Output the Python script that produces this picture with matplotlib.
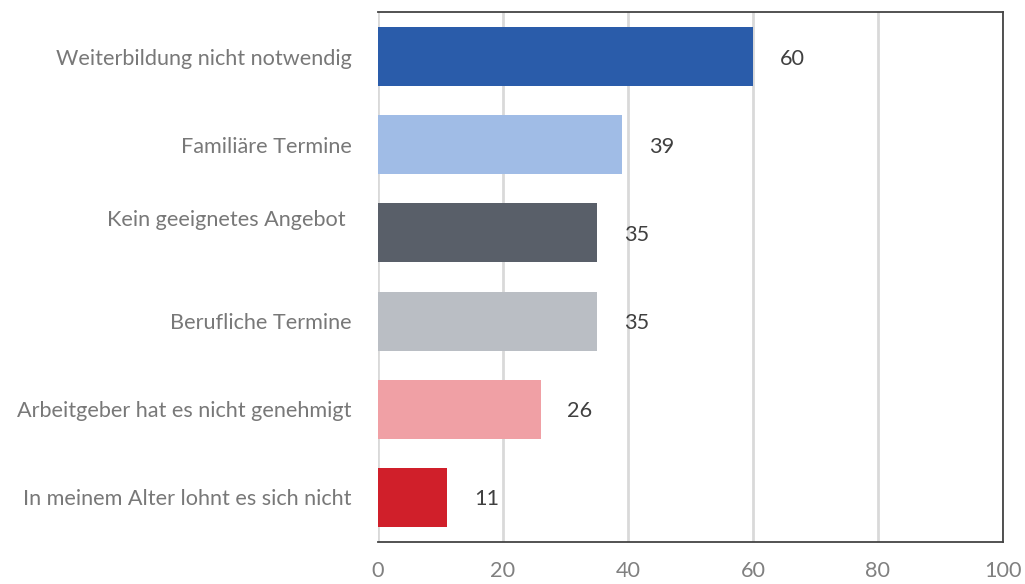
import matplotlib
matplotlib.use("Agg")
import matplotlib.pyplot as plt
import matplotlib.transforms as mtransforms

categories = ["Weiterbildung nicht notwendig", "Familiäre Termine", "Kein geeignetes Angebot ",
              "Berufliche Termine", "Arbeitgeber hat es nicht genehmigt", "In meinem Alter lohnt es sich nicht"]
values = [60, 39, 35, 35, 26, 11]
colors = ["#2a5caa", "#a0bce6", "#595f69", "#babec4", "#f0a0a5", "#d01f2a"]
xticks = [0, 20, 40, 60, 80, 100]

plt.rcParams['font.family'] = ['Lato', 'DejaVu Sans']

fig = plt.figure(figsize=(10.25, 5.84), dpi=100)
ax = fig.add_axes([378/1025, 1 - 542/584, (1003-378)/1025, (542-12)/584])

ypos = list(range(len(categories)))
ax.barh(ypos, values, height=0.67, color=colors, zorder=3)
ax.set_ylim(5.51, -0.51)
ax.set_xlim(0, 100)
ax.set_xticks(xticks)
ax.set_xticklabels([str(t) for t in xticks])
ax.set_yticks(ypos)
ax.set_yticklabels(categories)
ax.grid(axis='x', color='#d9d9d9', linewidth=2, zorder=0)
ax.tick_params(axis='y', length=0, pad=19, labelsize=15.6, labelcolor='#787878')
ax.tick_params(axis='x', length=0, pad=14, labelsize=15.6, labelcolor='#808080')

for side in ['top', 'right', 'bottom']:
    ax.spines[side].set_color('#444444')
    ax.spines[side].set_linewidth(1.3)
ax.spines['left'].set_visible(False)

# offset the "Kein geeignetes Angebot" label slightly upwards
lbl = ax.get_yticklabels()[2]
lbl.set_transform(lbl.get_transform() + mtransforms.ScaledTranslation(0, 15/100, fig.dpi_scale_trans))

for y, v in zip(ypos, values):
    ax.annotate(str(v), xy=(v, y), xytext=(27, -2), textcoords='offset pixels',
                va='center', ha='left', fontsize=15.6, color='#404040')

fig.savefig("out.png", dpi=100)
